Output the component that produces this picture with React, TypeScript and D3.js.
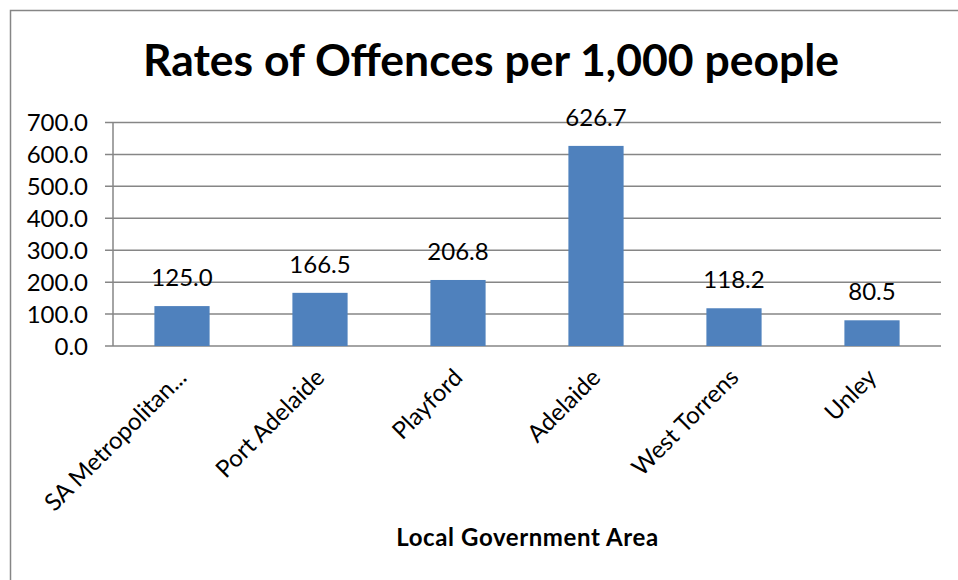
import React from "react";
import * as d3 from "d3";

const categories = ["SA Metropolitan...", "Port Adelaide", "Playford", "Adelaide", "West Torrens", "Unley"];
const values = [125.0, 166.5, 206.8, 626.7, 118.2, 80.5];
const yTicks = [0, 100, 200, 300, 400, 500, 600, 700];
const title = "Rates of Offences per 1,000 people";
const xTitle = "Local Government Area";

const W = 958;
const H = 580;
const FONT = "Lato, 'Open Sans', sans-serif";

export default function App() {
  const left = 113;
  const right = 941;
  const top = 122.5;
  const bottom = 346;

  const x = d3.scaleBand<string>().domain(categories).range([left, right]).paddingInner(0.6).paddingOuter(0.3);
  const y = d3.scaleLinear().domain([0, 700]).range([bottom, top]);

  return (
    <svg width={W} height={H} style={{ position: "absolute", left: 0, top: 0, display: "block" }}>
      <rect x={0} y={0} width={W} height={H} fill="#fff" />
      <path d={`M10.5,${H} V10.5 H${W}`} fill="none" stroke="#868686" strokeWidth={1.5} />
      <text x={491} y={76} textAnchor="middle" fontFamily={FONT} fontWeight="bold" fontSize={44.5} fill="#000">
        {title}
      </text>
      {yTicks.map((t) => (
        <g key={t}>
          <line x1={105} x2={right} y1={y(t)} y2={y(t)} stroke="#868686" strokeWidth={1.5} />
          <text x={88} y={y(t)} dy="0.36em" textAnchor="end" fontFamily={FONT} fontSize={24} fill="#000">
            {t.toFixed(1)}
          </text>
        </g>
      ))}
      <line x1={left} x2={left} y1={top} y2={bottom} stroke="#868686" strokeWidth={1.5} />
      {categories.map((c, i) => (
        <rect key={c} x={x(c)} y={y(values[i])} width={x.bandwidth()} height={bottom - y(values[i])} fill="#4F81BD" />
      ))}
      {categories.map((c, i) => (
        <text
          key={"v" + c}
          x={(x(c) as number) + x.bandwidth() / 2}
          y={y(values[i]) - 20}
          textAnchor="middle"
          fontFamily={FONT}
          fontSize={24}
          fill="#000"
        >
          {values[i].toFixed(1)}
        </text>
      ))}
      {categories.map((c) => {
        const cx = (x(c) as number) + x.bandwidth() / 2;
        return (
          <text
            key={"l" + c}
            transform={`translate(${cx + 6},${379}) rotate(-45)`}
            textAnchor="end"
            fontFamily={FONT}
            fontSize={24}
            fill="#000"
          >
            {c}
          </text>
        );
      })}
      <text x={527.5} y={546} textAnchor="middle" fontFamily={FONT} fontWeight="bold" fontSize={24} letterSpacing={0.6} fill="#000">
        {xTitle}
      </text>
    </svg>
  );
}
